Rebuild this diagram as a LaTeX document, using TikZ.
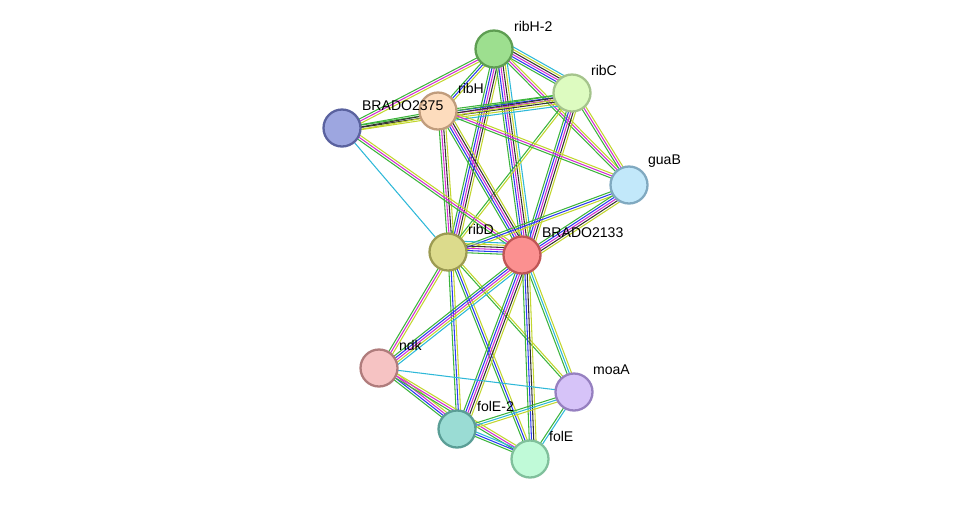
\documentclass[tikz,border=0pt]{standalone}
\usepackage{fontspec}
\setmainfont{Liberation Sans}
\usepackage{tikz}
\usetikzlibrary{calc,positioning}
\definecolor{cgr}{HTML}{3CB43C}
\definecolor{cbl}{HTML}{2B3BF0}
\definecolor{cmg}{HTML}{D22FD2}
\definecolor{cyg}{HTML}{C2D62E}
\definecolor{ccy}{HTML}{2EB8D8}
\definecolor{cbk}{HTML}{333333}
\definecolor{f1}{HTML}{9DDF8F}\definecolor{d1}{HTML}{5E9E52}
\definecolor{f2}{HTML}{DDFBC0}\definecolor{d2}{HTML}{A5C48C}
\definecolor{f3}{HTML}{FDDCBD}\definecolor{d3}{HTML}{C09C7C}
\definecolor{f4}{HTML}{9DA6E0}\definecolor{d4}{HTML}{5A629F}
\definecolor{f5}{HTML}{C2E8FA}\definecolor{d5}{HTML}{80A9C0}
\definecolor{f6}{HTML}{DCDB8C}\definecolor{d6}{HTML}{9C9B52}
\definecolor{f7}{HTML}{FB9090}\definecolor{d7}{HTML}{C05555}
\definecolor{f8}{HTML}{F6C3C3}\definecolor{d8}{HTML}{B07C7C}
\definecolor{f9}{HTML}{D6C3F8}\definecolor{d9}{HTML}{9680C0}
\definecolor{f10}{HTML}{9ADCD4}\definecolor{d10}{HTML}{5A9E96}
\definecolor{f11}{HTML}{C0FAD8}\definecolor{d11}{HTML}{80C09C}
\newcommand{\bundle}[3]{%
  \foreach \c [count=\i] in {#3} {
    \pgfmathsetmacro{\off}{(\i-1)*0.045}
    \draw[\c, line width=0.6pt] ($(#1)!\off cm!90:(#2)$) -- ($(#2)!\off cm!-90:(#1)$);
  }}
\begin{document}
\begin{tikzpicture}[x=0.02cm,y=-0.02cm]
  \tikzstyle{pnode} = [circle, minimum size=0.74cm, line width=1.3pt, inner sep=0pt]
  \tikzstyle{lbl} = [font=\footnotesize, anchor=south west, inner sep=1pt]
  \useasboundingbox (0,0) rectangle (976,505);
  % node positions
  \coordinate (p1) at (494,49);  \coordinate (p2) at (572,93);
  \coordinate (p3) at (438,111); \coordinate (p4) at (342,128);
  \coordinate (p5) at (629,185); \coordinate (p6) at (448,252);
  \coordinate (p7) at (522,255); \coordinate (p8) at (379,368);
  \coordinate (p9) at (574,392); \coordinate (p10) at (457,429);
  \coordinate (p11) at (530,459);
  % edges
  \bundle{p1}{p2}{cgr,cbl,cmg,cbk,cyg,ccy}
  \bundle{p1}{p3}{cgr,cbl,cyg}
  \bundle{p1}{p4}{cgr,cmg,cyg}
  \bundle{p1}{p5}{cgr,cmg,cyg}
  \bundle{p1}{p6}{cgr,cbl,cmg,cbk,cyg}
  \bundle{p1}{p7}{cgr,cbl,cmg,cbk,cyg,ccy}
  \bundle{p2}{p3}{cgr,cbl,cmg,cbk,cyg,ccy}
  \bundle{p2}{p4}{cgr,cbk,cyg}
  \bundle{p2}{p5}{cgr,cmg,cyg}
  \bundle{p2}{p6}{cgr,cyg}
  \bundle{p2}{p7}{cgr,cbl,cmg,cbk,cyg}
  \bundle{p3}{p4}{cgr,cbk,cyg}
  \bundle{p3}{p5}{cgr,cmg,cyg}
  \bundle{p3}{p6}{cgr,cmg,cbk,cyg}
  \bundle{p3}{p7}{cgr,cbl,cmg,cbk,cyg}
  \bundle{p4}{p6}{ccy}
  \bundle{p4}{p7}{cgr,cmg,cyg}
  \bundle{p5}{p6}{cgr,cbl,cyg}
  \bundle{p5}{p7}{cgr,cbl,cmg,cbk,cyg}
  \bundle{p6}{p7}{cgr,cbl,cmg,cbk,cyg,ccy}
  \bundle{p6}{p8}{cgr,cmg,cyg}
  \bundle{p6}{p9}{cgr,cyg}
  \bundle{p6}{p10}{cgr,cbl,cyg}
  \bundle{p6}{p11}{cgr,cbl,cyg}
  \bundle{p7}{p8}{cgr,cbl,cmg,cyg,ccy}
  \bundle{p7}{p9}{cgr,ccy,cyg}
  \bundle{p7}{p10}{cgr,cbl,cmg,cbk,cyg}
  \bundle{p7}{p11}{cgr,cbl,cbk,cyg}
  \bundle{p8}{p9}{ccy}
  \bundle{p8}{p10}{cgr,cbl,cmg,cyg}
  \bundle{p8}{p11}{cgr,cmg,cyg}
  \bundle{p9}{p10}{cgr,ccy,cyg}
  \bundle{p9}{p11}{cgr,ccy}
  \bundle{p10}{p11}{cgr,cbl,ccy}
  % nodes
  \node[pnode, fill=f1, draw=d1] (ribH2) at (p1) {};
  \node[pnode, fill=f2, draw=d2] (ribC) at (p2) {};
  \node[pnode, fill=f3, draw=d3] (ribH) at (p3) {};
  \node[pnode, fill=f4, draw=d4] (B2375) at (p4) {};
  \node[pnode, fill=f5, draw=d5] (guaB) at (p5) {};
  \node[pnode, fill=f6, draw=d6] (ribD) at (p6) {};
  \node[pnode, fill=f7, draw=d7] (B2133) at (p7) {};
  \node[pnode, fill=f8, draw=d8] (ndk) at (p8) {};
  \node[pnode, fill=f9, draw=d9] (moaA) at (p9) {};
  \node[pnode, fill=f10, draw=d10] (folE2) at (p10) {};
  \node[pnode, fill=f11, draw=d11] (folE) at (p11) {};
  % labels
  \node[lbl] at (512,34) {ribH-2};
  \node[lbl] at (589,78) {ribC};
  \node[lbl] at (456,96) {ribH};
  \node[lbl] at (360,113) {BRADO2375};
  \node[lbl] at (646,170) {guaB};
  \node[lbl] at (466,237) {ribD};
  \node[lbl] at (540,240) {BRADO2133};
  \node[lbl] at (397,353) {ndk};
  \node[lbl] at (591,377) {moaA};
  \node[lbl] at (475,414) {folE-2};
  \node[lbl] at (547,444) {folE};
\end{tikzpicture}
\end{document}
